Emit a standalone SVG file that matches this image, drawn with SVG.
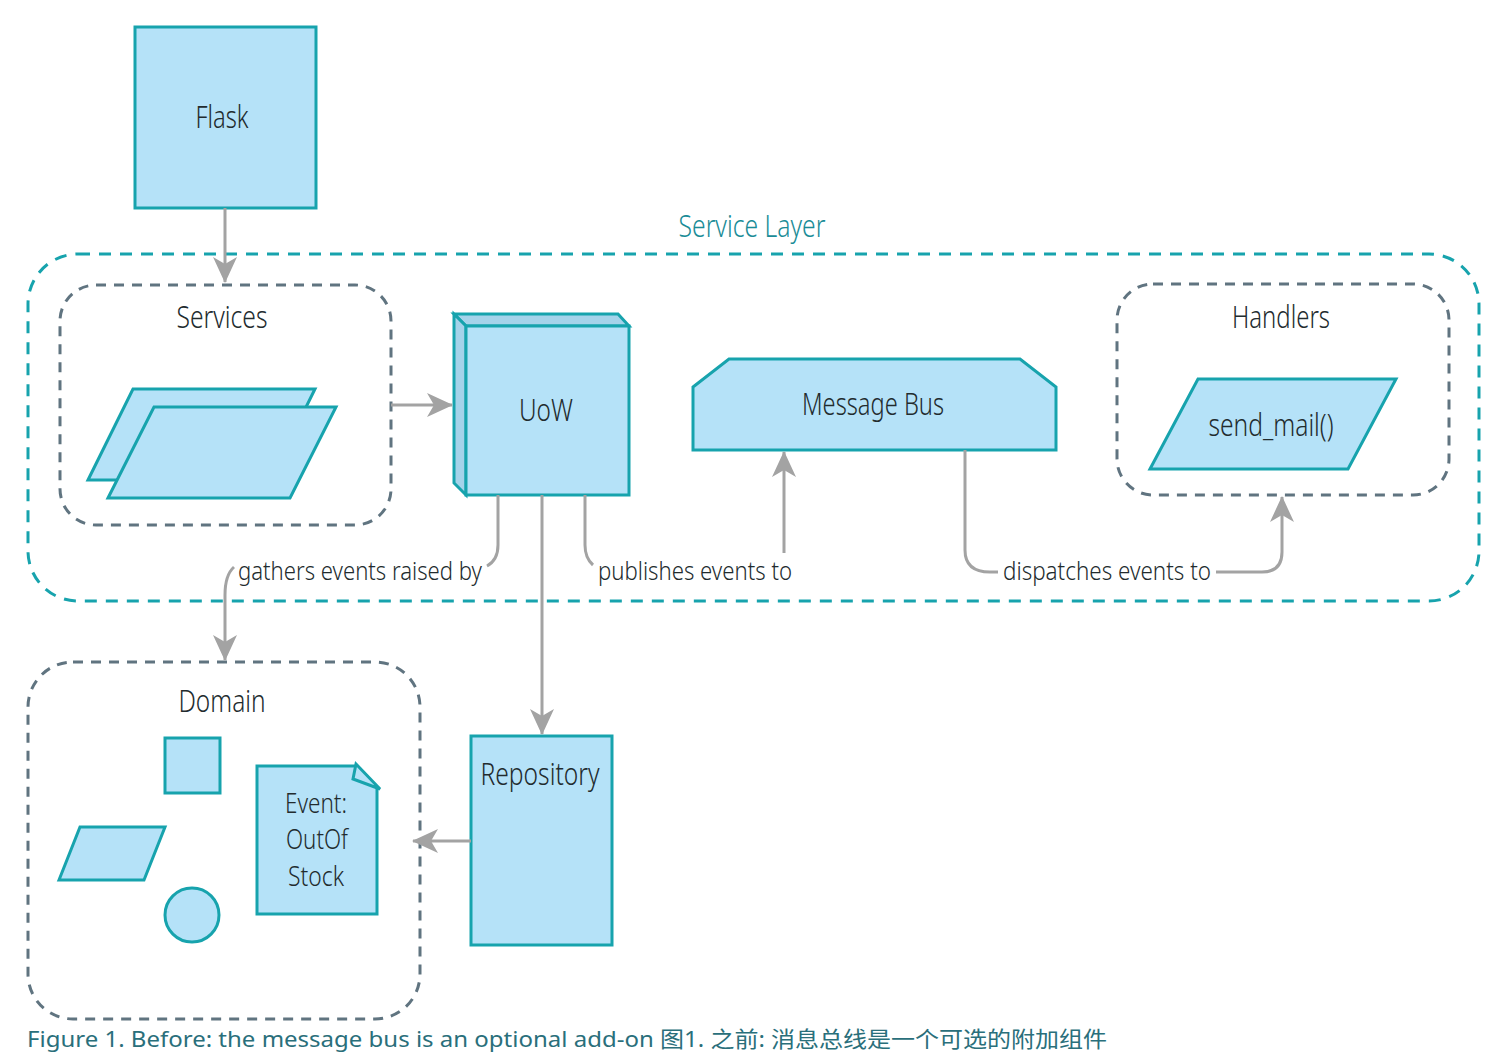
<svg xmlns="http://www.w3.org/2000/svg" width="1492" height="1063" viewBox="0 0 1492 1063">
<style>
.node{fill:#b5e2f8;stroke:#17a3ad;stroke-width:3;stroke-linejoin:miter}
.side{fill:#a5d3ea;stroke:#17a3ad;stroke-width:3}
.grp{fill:none;stroke:#607480;stroke-width:3;stroke-dasharray:10 8}
.layer{fill:none;stroke:#17a3ad;stroke-width:3;stroke-dasharray:12 9}
.conn{fill:none;stroke:#a3a3a3;stroke-width:3}
.t{font-family:"Noto Sans","DejaVu Sans",sans-serif;font-weight:300;fill:#222b2e;text-anchor:middle}
.lbl{font-family:"Noto Sans","DejaVu Sans",sans-serif;font-weight:300;fill:#222b2e;font-size:26px}
</style>
<defs>
<marker id="ah" viewBox="0 0 26 24" refX="25" refY="12" markerWidth="26" markerHeight="24" markerUnits="userSpaceOnUse" orient="auto">
<path d="M0,0 L26,12 L0,24 L7,12 Z" fill="#a3a3a3"/>
</marker>
</defs>
<rect width="1492" height="1063" fill="#ffffff"/>

<g id="service-layer">
<rect class="layer" x="28" y="254" width="1451" height="347" rx="50"/>
<text x="752" y="237" class="t" font-size="31" style="fill:#1a8c97" textLength="147" lengthAdjust="spacingAndGlyphs">Service Layer</text>
</g>

<g id="services">
<rect class="grp" x="60" y="285" width="331" height="240" rx="36"/>
<text x="222" y="328" class="t" font-size="31" textLength="91" lengthAdjust="spacingAndGlyphs">Services</text>
<polygon class="node" points="88,480 133,389 315,389 270,480"/>
<polygon class="node" points="108,498 154,407 336,407 290,498"/>
</g>

<g id="handlers">
<rect class="grp" x="1117" y="284" width="332" height="211" rx="36"/>
<text x="1281" y="328" class="t" font-size="31" textLength="98" lengthAdjust="spacingAndGlyphs">Handlers</text>
</g>

<g id="domain">
<rect class="grp" x="28" y="662" width="392" height="357" rx="45"/>
<text x="222" y="712" class="t" font-size="31" textLength="87" lengthAdjust="spacingAndGlyphs">Domain</text>
<rect class="node" x="165" y="738" width="55" height="55"/>
<polygon class="node" points="59,880 80,827 165,827 144,880"/>
<circle class="node" cx="192" cy="915" r="27"/>
</g>

<g id="flask">
<rect class="node" x="135" y="27" width="181" height="181"/>
<text x="222" y="128" class="t" font-size="31" textLength="53" lengthAdjust="spacingAndGlyphs">Flask</text>
</g>

<g id="uow">
<polygon class="side" points="454,314 618,314 629,326 466,326"/>
<polygon class="side" points="454,314 466,326 466,495 454,483"/>
<rect class="node" x="466" y="326" width="163" height="169"/>
<text x="546" y="421" class="t" font-size="31" textLength="54" lengthAdjust="spacingAndGlyphs">UoW</text>
</g>

<g id="message-bus">
<polygon class="node" points="693,387 729,359 1020,359 1056,387 1056,450 693,450"/>
<text x="873" y="415" class="t" font-size="31" textLength="142" lengthAdjust="spacingAndGlyphs">Message Bus</text>
</g>

<g id="send-mail">
<polygon class="node" points="1150,469 1198,379 1396,379 1348,469"/>
<text x="1271" y="436" class="t" font-size="31" textLength="125" lengthAdjust="spacingAndGlyphs">send_mail()</text>
</g>

<g id="event">
<polygon class="node" points="257,766 357,766 377,788 377,914 257,914"/>
<polygon class="node" points="356,764 380,789 353,779"/>
<text x="316" y="813" class="t" font-size="27" textLength="62" lengthAdjust="spacingAndGlyphs">Event:</text>
<text x="317" y="849" class="t" font-size="27" textLength="62" lengthAdjust="spacingAndGlyphs">OutOf</text>
<text x="316" y="886" class="t" font-size="27" textLength="56" lengthAdjust="spacingAndGlyphs">Stock</text>
</g>

<g id="repository">
<rect class="node" x="471" y="736" width="141" height="209"/>
<text x="540" y="785" class="t" font-size="31" textLength="119" lengthAdjust="spacingAndGlyphs">Repository</text>
</g>

<g id="connectors">
<path class="conn" d="M225,208 L225,282" marker-end="url(#ah)"/>
<path class="conn" d="M391,405 L452,405" marker-end="url(#ah)"/>
<path class="conn" d="M498,495 L498,545 Q498,560 487,566"/>
<path class="conn" d="M234,567 Q225,575 225,595 L225,660" marker-end="url(#ah)"/>
<path class="conn" d="M542,495 L542,734" marker-end="url(#ah)"/>
<path class="conn" d="M585,495 L585,545 Q585,558 593,565"/>
<path class="conn" d="M784,553 L784,452" marker-end="url(#ah)"/>
<path class="conn" d="M965,450 L965,550 Q965,572 990,572 L998,572"/>
<path class="conn" d="M1216,572 L1262,572 Q1282,572 1282,552 L1282,497" marker-end="url(#ah)"/>
<path class="conn" d="M471,841 L413,841" marker-end="url(#ah)"/>
<text x="238" y="580" class="lbl" textLength="244" lengthAdjust="spacingAndGlyphs">gathers events raised by</text>
<text x="598" y="580" class="lbl" textLength="194" lengthAdjust="spacingAndGlyphs">publishes events to</text>
<text x="1003" y="580" class="lbl" textLength="208" lengthAdjust="spacingAndGlyphs">dispatches events to</text>
</g>

<text x="27" y="1047" font-family="Noto Sans, Noto Sans CJK SC, sans-serif" font-size="22" fill="#2a6f7b" textLength="1080" lengthAdjust="spacingAndGlyphs">Figure 1. Before: the message bus is an optional add-on 图1. 之前: 消息总线是一个可选的附加组件</text>
</svg>
